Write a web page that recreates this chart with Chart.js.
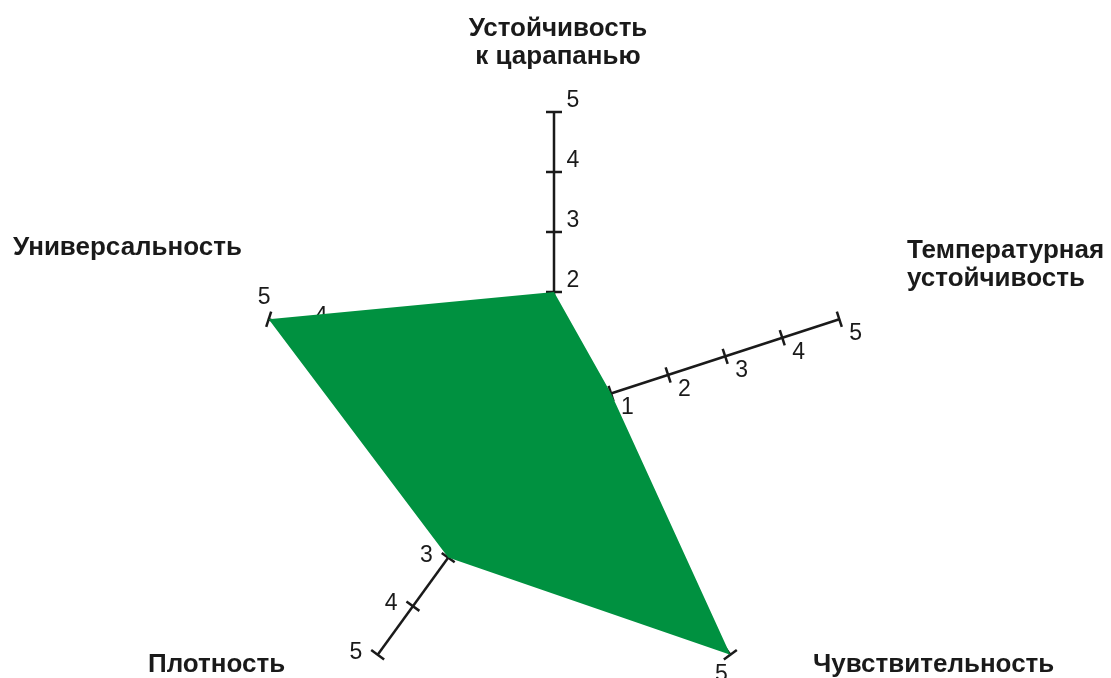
<!DOCTYPE html>
<html>
<head>
<meta charset="utf-8">
<script src="https://cdn.jsdelivr.net/npm/chart.js@4"></script>
<style>
  body { margin: 0; background: #fff; }
  #wrap { width: 1111px; height: 678px; }
</style>
</head>
<body>
<div id="wrap"><canvas id="radarChart"></canvas></div>
<script>
// оси (по часовой стрелке, начиная сверху)
const categories = [
    ['Устойчивость', 'к царапанью'],
    ['Температурная', 'устойчивость'],
    ['Чувствительность'],
    ['Плотность'],
    ['Универсальность']
];
const scores = [2, 1, 5, 3, 5];
const tickValues = [1, 2, 3, 4, 5];

// где стоят подписи осей: x, первая базовая линия, выравнивание
const titleLayout = [
    { x: 558, y: 36, align: 'center' },
    { x: 907, y: 258, align: 'left' },
    { x: 813, y: 672, align: 'left' },
    { x: 148, y: 672, align: 'left' },
    { x: 13, y: 255, align: 'left' }
];

const INK = '#1a1a1a';

// засечки и цифры на каждой оси, под полигоном
const axisTicks = {
    id: 'axisTicks',
    beforeDatasetsDraw(chart) {
        const r = chart.scales.r;
        const ctx = chart.ctx;
        ctx.save();
        ctx.strokeStyle = INK;
        ctx.fillStyle = INK;
        ctx.lineWidth = 2.5;
        ctx.font = '23px "Liberation Sans", Arial, sans-serif';
        ctx.textAlign = 'center';
        ctx.textBaseline = 'middle';
        categories.forEach((c, i) => {
            const end = r.getPointPositionForValue(i, r.max);
            const dx = end.x - r.xCenter, dy = end.y - r.yCenter;
            const len = Math.hypot(dx, dy);
            const ux = dx / len, uy = dy / len;
            const px = -uy, py = ux;
            tickValues.forEach(v => {
                const p = r.getPointPositionForValue(i, v);
                ctx.beginPath();
                ctx.moveTo(p.x - px * 8, p.y - py * 8);
                ctx.lineTo(p.x + px * 8, p.y + py * 8);
                ctx.stroke();
                ctx.fillText(String(v), p.x + ux * 11 + px * 19, p.y + uy * 11 + py * 19);
            });
        });
        ctx.restore();
    }
};

// названия осей
const axisTitles = {
    id: 'axisTitles',
    afterDraw(chart) {
        const ctx = chart.ctx;
        ctx.save();
        ctx.fillStyle = INK;
        ctx.font = 'bold 26px "Liberation Sans", Arial, sans-serif';
        ctx.textBaseline = 'alphabetic';
        categories.forEach((lines, i) => {
            const t = titleLayout[i];
            ctx.textAlign = t.align;
            lines.forEach((line, k) => ctx.fillText(line, t.x, t.y + k * 28));
        });
        ctx.restore();
    }
};

const ctx = document.getElementById('radarChart').getContext('2d');
new Chart(ctx, {
    type: 'radar',
    data: {
        labels: categories,
        datasets: [{
            data: scores,
            fill: true,
            backgroundColor: '#009140',
            borderWidth: 0,
            pointRadius: 0
        }]
    },
    options: {
        responsive: true,
        maintainAspectRatio: false,
        animation: false,
        plugins: {
            legend: { display: false },
            tooltip: { enabled: false }
        },
        scales: {
            r: {
                min: 0,
                max: 5,
                ticks: { display: false, stepSize: 1 },
                grid: { display: false },
                pointLabels: { display: false },
                angleLines: { color: INK, lineWidth: 2.5 },
                afterFit(scale) {
                    scale.xCenter = 554;
                    scale.yCenter = 412;
                    scale.drawingArea = 300;
                }
            }
        }
    },
    plugins: [axisTicks, axisTitles]
});
</script>
</body>
</html>
